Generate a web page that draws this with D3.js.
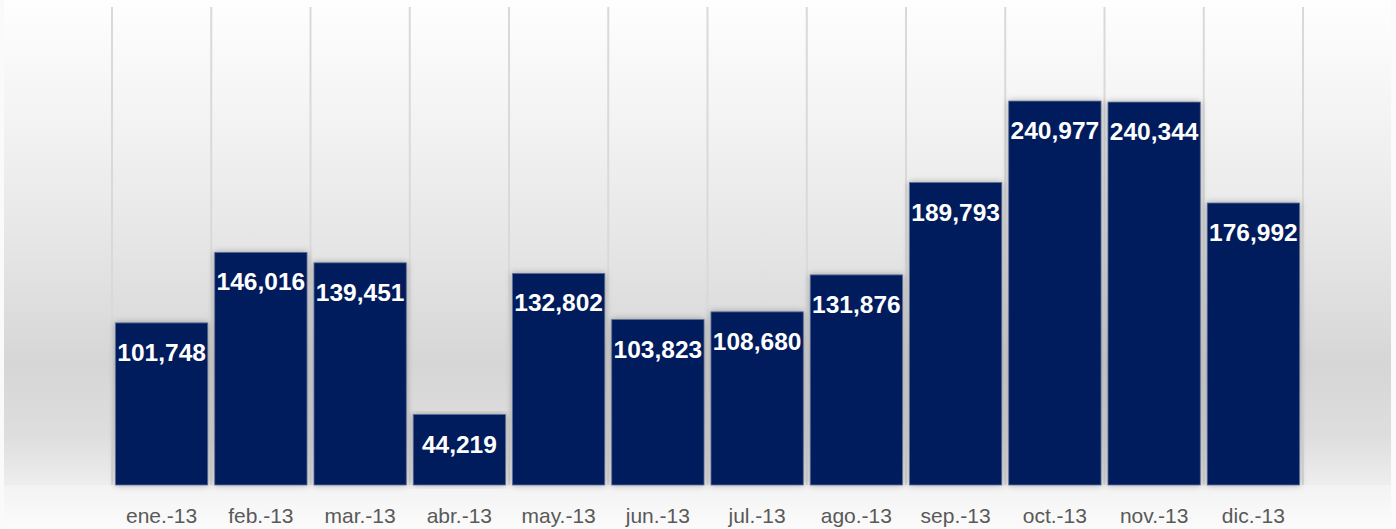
<!DOCTYPE html>
<html><head><meta charset="utf-8">
<script src="https://cdn.jsdelivr.net/npm/d3@7"></script>
<style>html,body{margin:0;padding:0;background:#fff;}svg{display:block;}</style>
</head><body>
<script>
const categories = ["ene.-13","feb.-13","mar.-13","abr.-13","may.-13","jun.-13","jul.-13","ago.-13","sep.-13","oct.-13","nov.-13","dic.-13"];
const values = [101748,146016,139451,44219,132802,103823,108680,131876,189793,240977,240344,176992];
const yMax = 300000;

const W = 1396, H = 529;
const plot = {left:112, right:1303, top:7, bottom:485};

const svg = d3.select("body").append("svg").attr("width",W).attr("height",H);
const defs = svg.append("defs");

const bg = defs.append("linearGradient").attr("id","bg").attr("x1",0).attr("y1",0).attr("x2",0).attr("y2",1);
[[0,"#fefefe"],[0.25,"#f3f3f3"],[0.5,"#e6e6e6"],[0.75,"#d6d6d6"],[0.9,"#dedede"],[1,"#eeeeee"]].forEach(s=>bg.append("stop").attr("offset",s[0]).attr("stop-color",s[1]));
const bg2 = defs.append("linearGradient").attr("id","bg2").attr("x1",0).attr("y1",0).attr("x2",0).attr("y2",1);
[[0,"#f3f3f3"],[1,"#fbfbfb"]].forEach(s=>bg2.append("stop").attr("offset",s[0]).attr("stop-color",s[1]));

const shadow = defs.append("filter").attr("id","sh").attr("x","-20%").attr("y","-5%").attr("width","140%").attr("height","110%");
shadow.append("feDropShadow").attr("dx",0).attr("dy",0).attr("stdDeviation",3).attr("flood-color","#000").attr("flood-opacity",0.3);

svg.append("rect").attr("x",0).attr("y",0).attr("width",W).attr("height",H).attr("fill","#fafafa");
svg.append("rect").attr("x",4).attr("y",0).attr("width",1387).attr("height",plot.bottom).attr("fill","url(#bg)");
svg.append("rect").attr("x",4).attr("y",plot.bottom).attr("width",1387).attr("height",H-plot.bottom).attr("fill","url(#bg2)");

const x = d3.scaleBand().domain(categories).range([plot.left,plot.right]).paddingInner(0.07).paddingOuter(0.035);
const y = d3.scaleLinear().domain([0,yMax]).range([plot.bottom,plot.top]);

// vertical gridlines at category boundaries
const bounds = d3.range(categories.length+1).map(i=>plot.left + i*(plot.right-plot.left)/categories.length);
svg.append("g").selectAll("line").data(bounds).join("line")
  .attr("x1",d=>d).attr("x2",d=>d).attr("y1",plot.top).attr("y2",plot.bottom)
  .attr("stroke","#d9d9d9").attr("stroke-width",2);

const data = categories.map((c,i)=>({c, v:values[i]}));

svg.append("g").selectAll("rect").data(data).join("rect")
  .attr("x",d=>x(d.c)).attr("y",d=>y(d.v))
  .attr("width",x.bandwidth()).attr("height",d=>y(0)-y(d.v))
  .attr("fill","#001f5c").attr("stroke","#5d6e96").attr("stroke-width",0.8)
  .attr("filter","url(#sh)");

const fmt = d3.format(",");
svg.append("g").selectAll("text").data(data).join("text")
  .attr("x",d=>x(d.c)+x.bandwidth()/2).attr("y",d=>y(d.v)+38)
  .attr("text-anchor","middle")
  .attr("font-family","'Liberation Sans', Arial, sans-serif")
  .attr("font-weight","bold").attr("font-size",24.5).attr("fill","#ffffff")
  .text(d=>fmt(d.v));

svg.append("g").selectAll("text").data(categories).join("text")
  .attr("x",d=>x(d)+x.bandwidth()/2).attr("y",523)
  .attr("text-anchor","middle")
  .attr("font-family","'Liberation Sans', Arial, sans-serif")
  .attr("font-size",21).attr("fill","#595959")
  .text(d=>d);
</script>
</body></html>
